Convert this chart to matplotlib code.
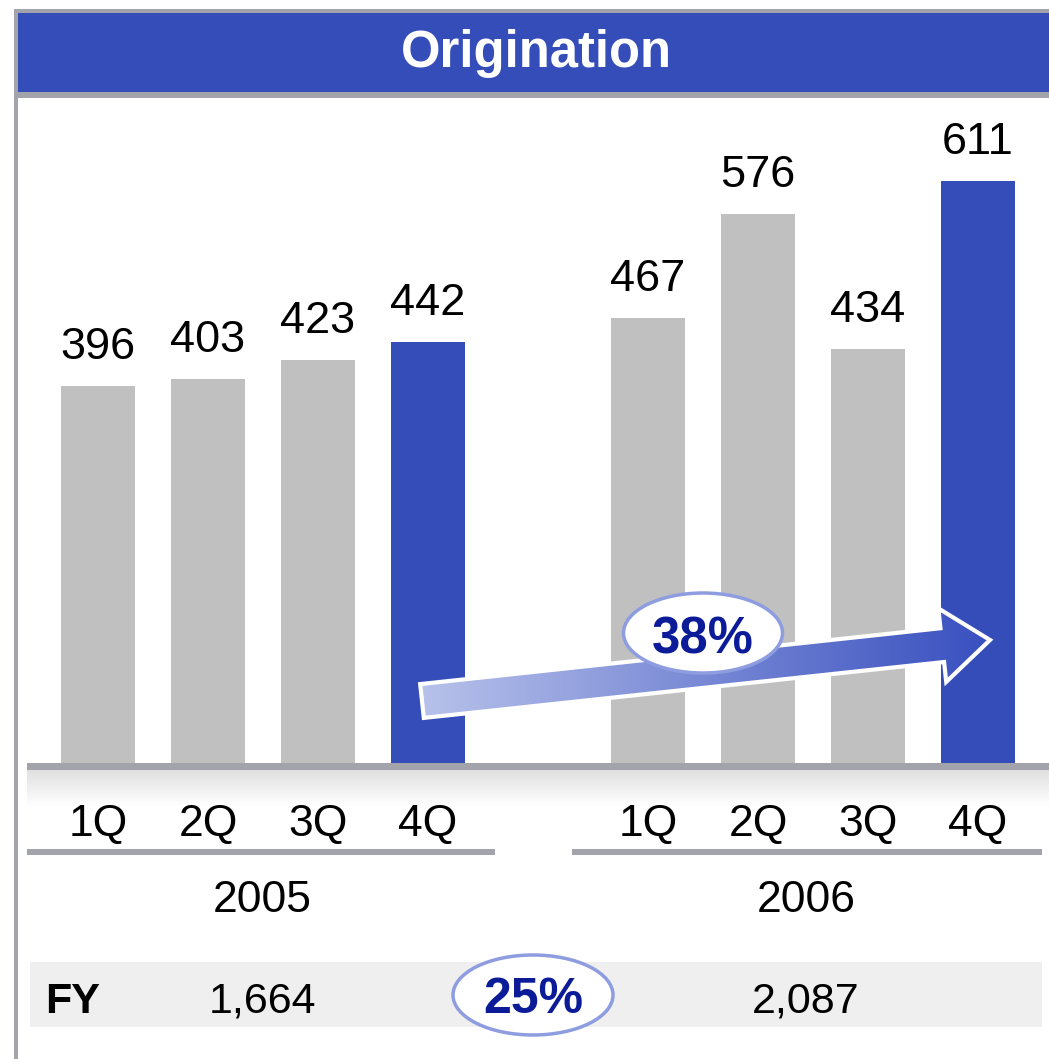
import numpy as np
import matplotlib
matplotlib.use("Agg")
import matplotlib.pyplot as plt
from matplotlib.patches import Rectangle, Ellipse, Polygon
from matplotlib import transforms

# ---- data ----
quarters = ["1Q", "2Q", "3Q", "4Q", "1Q", "2Q", "3Q", "4Q"]
values = [396, 403, 423, 442, 467, 576, 434, 611]
positions = [0, 1, 2, 3, 5, 6, 7, 8]
years = ["2005", "2006"]
fy_totals = ["1,664", "2,087"]
growth_q4 = "38%"
growth_fy = "25%"
title = "Origination"

BLUE = "#344db9"
GRAY_BAR = "#c0c0c0"
FRAME = "#a3a3ab"
DARKBLUE = "#0c1c98"
FONT = "Liberation Sans"

W, H = 1049, 1059
fig = plt.figure(figsize=(W / 100, H / 100), dpi=100)
fig.patch.set_facecolor("white")

# bar axes (data coordinates)
base_px, top_px = 763, 100
left_px, right_px = 43, 1033
ax = fig.add_axes([left_px / W, (H - base_px) / H, (right_px - left_px) / W, (base_px - top_px) / H])
ax.set_xlim(-0.5, 8.5)
ax.set_ylim(0, (base_px - top_px) / 0.953)
ax.axis("off")
ax.patch.set_alpha(0)

colors = [GRAY_BAR, GRAY_BAR, GRAY_BAR, BLUE, GRAY_BAR, GRAY_BAR, GRAY_BAR, BLUE]
bars = ax.bar(positions, values, width=0.67, color=colors, zorder=2)
for p, v in zip(positions, values):
    ax.annotate(str(v), (p, v), xytext=(0, 19.4), textcoords="offset points",
                ha="center", va="baseline", fontsize=32.5, family=FONT, color="black")

# overlay axes in pixel coordinates
ov = fig.add_axes([0, 0, 1, 1], zorder=5)
ov.axis("off")
ov.patch.set_alpha(0)

# frame & header
ov.add_patch(Rectangle((14, 9), W - 14, 4, color=FRAME, lw=0))
ov.add_patch(Rectangle((14, 9), 4, H - 9, color=FRAME, lw=0))
ov.add_patch(Rectangle((18, 13), W - 18, 79, color=BLUE, lw=0))
ov.add_patch(Rectangle((18, 92), W - 18, 6, color=FRAME, lw=0))
ov.text(536, 54, title, ha="center", va="center", color="white",
        fontsize=36.5, fontweight="bold", family=FONT)

# axis band with gradient below
ov.add_patch(Rectangle((27, 763), W - 27, 7, color=FRAME, lw=0))
grad = np.linspace(0.88, 1.0, 64).reshape(-1, 1)
ov.imshow(np.dstack([grad, grad, grad]), extent=(27, W, 806, 770), aspect="auto", zorder=0.5)

# quarter labels
blend = transforms.blended_transform_factory(ax.transData, ov.transData)
for p, q in zip(positions, quarters):
    ov.text(p, 836, q, transform=blend, ha="center", va="baseline",
            fontsize=32, family=FONT, color="black")

# year underline + labels
ov.add_patch(Rectangle((27, 849), 468, 6, color=FRAME, lw=0))
ov.add_patch(Rectangle((572, 849), 470, 6, color=FRAME, lw=0))
ov.text(262, 912, years[0], ha="center", va="baseline", fontsize=32, family=FONT)
ov.text(806, 912, years[1], ha="center", va="baseline", fontsize=32, family=FONT)

# FY row
ov.add_patch(Rectangle((30, 962), 1012, 65, color="#efefef", lw=0))
ov.text(45, 1013, "FY", ha="left", va="baseline", fontsize=31, fontweight="bold", family=FONT)
ov.text(262, 1013, fy_totals[0], ha="center", va="baseline", fontsize=31, family=FONT)
ov.text(806, 1013, fy_totals[1], ha="center", va="baseline", fontsize=31, family=FONT)
ov.add_patch(Ellipse((533, 995), 160, 80, facecolor="white", edgecolor="#8e9ce0", lw=2.5, zorder=3))
ov.text(533, 1013, growth_fy, ha="center", va="baseline", fontsize=36, fontweight="bold",
        family=FONT, color=DARKBLUE, zorder=4)

# gradient arrow
tail = np.array([422.0, 701.0])
tip = np.array([990.0, 640.0])
d = tip - tail
L = np.hypot(*d)
u = d / L
n = np.array([u[1], -u[0]])
shaft_half = 17
head_half = 37
head_len = 48
hb = tip - u * head_len
pts = np.array([
    tail + n * shaft_half,
    hb + n * shaft_half,
    hb + n * head_half,
    tip,
    hb - n * head_half,
    hb - n * shaft_half,
    tail - n * shaft_half,
])
poly = Polygon(pts, closed=True, facecolor="none", edgecolor="white", lw=3, zorder=3.2)
c0 = np.array([0.72, 0.76, 0.92])
c1 = np.array([0.22, 0.31, 0.75])
t = np.linspace(0, 1, 256)
img = (c0[None, :] * (1 - t[:, None]) + c1[None, :] * t[:, None])[None, :, :]
im = ov.imshow(img, extent=(pts[:, 0].min(), pts[:, 0].max(), pts[:, 1].max(), pts[:, 1].min()),
               aspect="auto", zorder=3)
clip = Polygon(pts, closed=True, transform=ov.transData)
im.set_clip_path(clip)
ov.add_patch(poly)

ov.add_patch(Ellipse((703, 633), 159, 80, facecolor="white", edgecolor="#8e9ce0", lw=2.5, zorder=4))
ov.text(703, 653, growth_q4, ha="center", va="baseline", fontsize=36.5, fontweight="bold",
        family=FONT, color=DARKBLUE, zorder=5)

ov.set_xlim(0, W)
ov.set_ylim(H, 0)

fig.savefig("out.png", dpi=100)
